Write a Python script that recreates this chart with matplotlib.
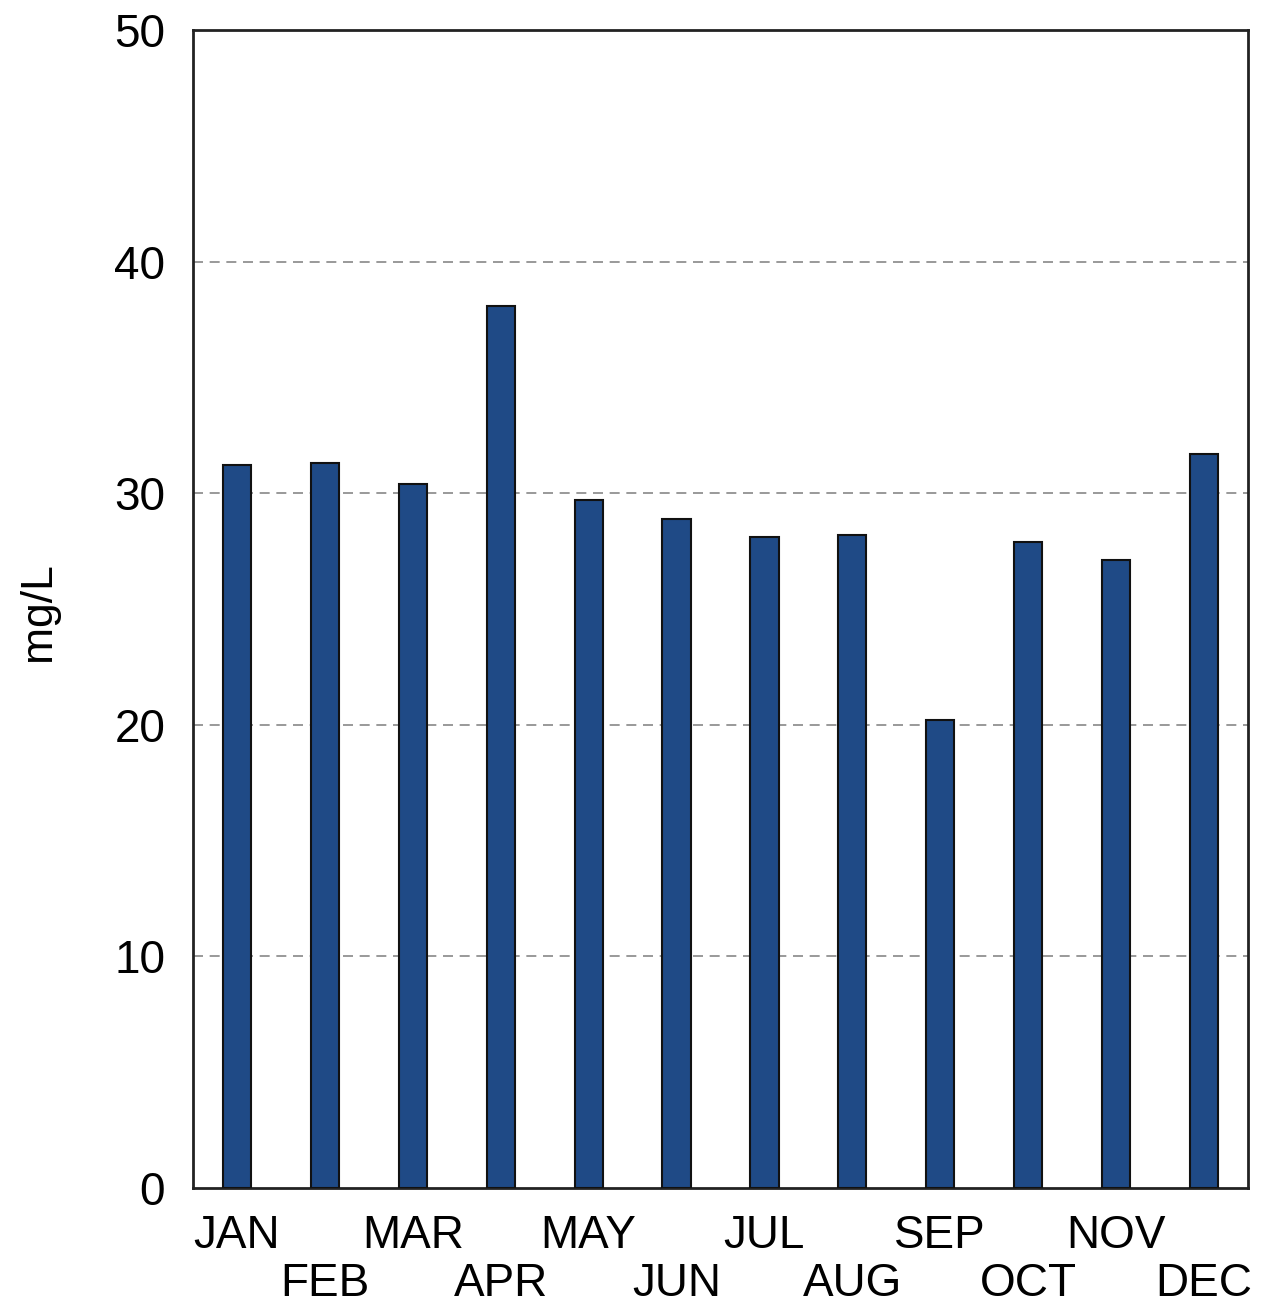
import matplotlib.pyplot as plt
import numpy as np

# monthly values (mg/L)
months = ["JAN", "FEB", "MAR", "APR", "MAY", "JUN",
          "JUL", "AUG", "SEP", "OCT", "NOV", "DEC"]
values = [31.2, 31.3, 30.4, 38.1, 29.7, 28.9,
          28.1, 28.2, 20.2, 27.9, 27.1, 31.7]
yticks = [0, 10, 20, 30, 40, 50]

plt.rcParams['font.family'] = ['Liberation Sans', 'DejaVu Sans']

fig = plt.figure(figsize=(12.63, 13.09), dpi=100)
ax = fig.add_axes([0.1528, 0.0924, 0.8353, 0.8847])

x = np.arange(len(months))
ax.bar(x, values, width=0.32, color="#1f4a86", edgecolor="#111111",
       linewidth=1.5, zorder=3)

ax.set_xlim(-0.5, len(months) - 0.5)
ax.set_ylim(0, 50)

# dashed grid at inner ticks
for v in yticks[1:-1]:
    ax.axhline(v, color="#888888", linestyle=(0, (6, 4)), linewidth=1.2, zorder=1)

ax.set_yticks(yticks)
ax.set_yticklabels([str(t) for t in yticks], fontsize=33)
ax.set_xticks(x)
ax.set_xticklabels(months, fontsize=33)
ax.tick_params(axis="x", length=0, pad=19)
ax.tick_params(axis="y", length=0, pad=20)

# staggered month labels: odd positions go on a second row
for i, t in enumerate(ax.xaxis.get_major_ticks()):
    if i % 2 == 1:
        t.set_pad(53)

for s in ax.spines.values():
    s.set_linewidth(2)
    s.set_color("#222222")

fig.text(38 / 1263, 1 - 612 / 1309, "mg/L", rotation=90, fontsize=32,
         ha="center", va="center")

fig.savefig("out.png", dpi=100, facecolor="white")
